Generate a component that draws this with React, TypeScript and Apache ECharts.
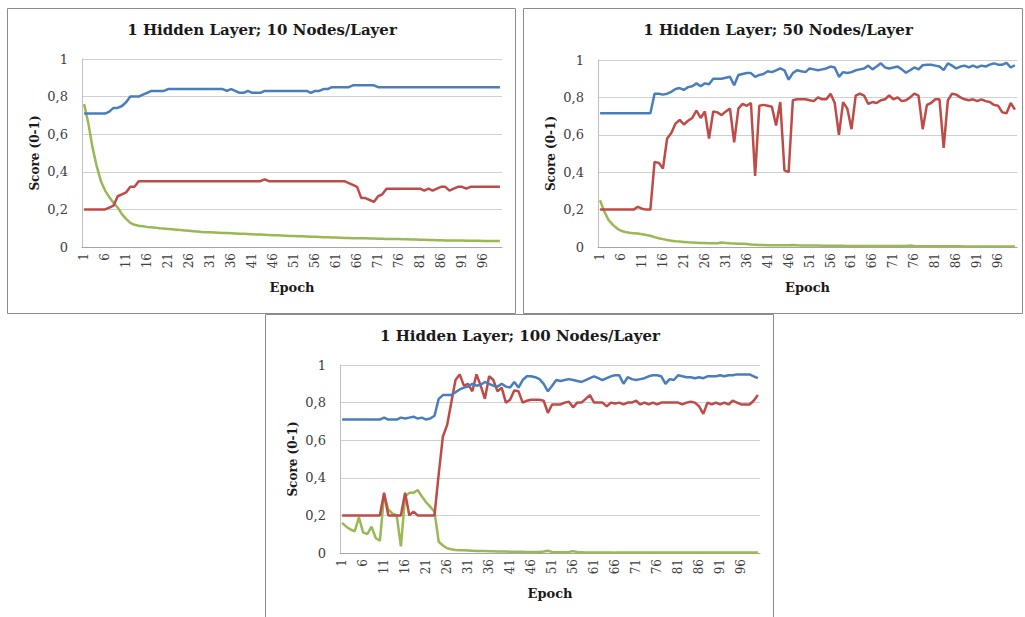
import React, { useEffect, useRef } from "react";
import * as echarts from "echarts";

const epochs: string[] = Array.from({ length: 100 }, (_, i) => String(i + 1));
const yTicks = [0, 0.2, 0.4, 0.6, 0.8, 1];

const titles = [
  "1 Hidden Layer; 10 Nodes/Layer",
  "1 Hidden Layer; 50 Nodes/Layer",
  "1 Hidden Layer; 100 Nodes/Layer",
];

// ---- 10 nodes ----
const blue10 = [
  0.71, 0.71, 0.71, 0.71, 0.71, 0.71, 0.72, 0.74, 0.74, 0.75,
  0.77, 0.80, 0.80, 0.80, 0.81, 0.82, 0.83, 0.83, 0.83, 0.83,
  0.84, 0.84, 0.84, 0.84, 0.84, 0.84, 0.84, 0.84, 0.84, 0.84,
  0.84, 0.84, 0.84, 0.84, 0.83, 0.84, 0.83, 0.82, 0.82, 0.83,
  0.82, 0.82, 0.82, 0.83, 0.83, 0.83, 0.83, 0.83, 0.83, 0.83,
  0.83, 0.83, 0.83, 0.83, 0.82, 0.83, 0.83, 0.84, 0.84, 0.85,
  0.85, 0.85, 0.85, 0.85, 0.86, 0.86, 0.86, 0.86, 0.86, 0.86,
  0.85, 0.85, 0.85, 0.85, 0.85, 0.85, 0.85, 0.85, 0.85, 0.85,
  0.85, 0.85, 0.85, 0.85, 0.85, 0.85, 0.85, 0.85, 0.85, 0.85,
  0.85, 0.85, 0.85, 0.85, 0.85, 0.85, 0.85, 0.85, 0.85, 0.85,
];
const red10 = [
  0.20, 0.20, 0.20, 0.20, 0.20, 0.20, 0.21, 0.22, 0.27, 0.28,
  0.29, 0.32, 0.32, 0.35, 0.35, 0.35, 0.35, 0.35, 0.35, 0.35,
  0.35, 0.35, 0.35, 0.35, 0.35, 0.35, 0.35, 0.35, 0.35, 0.35,
  0.35, 0.35, 0.35, 0.35, 0.35, 0.35, 0.35, 0.35, 0.35, 0.35,
  0.35, 0.35, 0.35, 0.36, 0.35, 0.35, 0.35, 0.35, 0.35, 0.35,
  0.35, 0.35, 0.35, 0.35, 0.35, 0.35, 0.35, 0.35, 0.35, 0.35,
  0.35, 0.35, 0.35, 0.34, 0.33, 0.32, 0.26, 0.26, 0.25, 0.24,
  0.27, 0.28, 0.31, 0.31, 0.31, 0.31, 0.31, 0.31, 0.31, 0.31,
  0.31, 0.30, 0.31, 0.30, 0.31, 0.32, 0.32, 0.30, 0.31, 0.32,
  0.32, 0.31, 0.32, 0.32, 0.32, 0.32, 0.32, 0.32, 0.32, 0.32,
];
const green10 = [
  0.76, 0.66, 0.53, 0.43, 0.35, 0.30, 0.265, 0.235, 0.21, 0.175,
  0.15, 0.128, 0.118, 0.113, 0.11, 0.107, 0.105, 0.103, 0.100, 0.098,
  0.096, 0.094, 0.092, 0.090, 0.088, 0.086, 0.084, 0.082, 0.080, 0.079,
  0.078, 0.077, 0.076, 0.075, 0.074, 0.073, 0.072, 0.071, 0.070, 0.069,
  0.068, 0.067, 0.066, 0.065, 0.064, 0.063, 0.062, 0.061, 0.060, 0.059,
  0.058, 0.057, 0.057, 0.056, 0.055, 0.054, 0.053, 0.052, 0.052, 0.051,
  0.050, 0.049, 0.048, 0.048, 0.047, 0.047, 0.046, 0.046, 0.045, 0.045,
  0.044, 0.044, 0.043, 0.043, 0.042, 0.042, 0.041, 0.041, 0.040, 0.040,
  0.039, 0.038, 0.037, 0.037, 0.036, 0.036, 0.035, 0.035, 0.035, 0.034,
  0.034, 0.033, 0.033, 0.033, 0.033, 0.032, 0.032, 0.032, 0.032, 0.032,
];

// ---- 50 nodes ----
const blue50 = [
  0.715, 0.715, 0.715, 0.715, 0.715, 0.715, 0.715, 0.715, 0.715, 0.715,
  0.715, 0.715, 0.715, 0.82, 0.82, 0.815, 0.82, 0.83, 0.845, 0.85,
  0.84, 0.855, 0.86, 0.875, 0.86, 0.875, 0.87, 0.90, 0.90, 0.90,
  0.905, 0.91, 0.865, 0.92, 0.925, 0.93, 0.93, 0.91, 0.92, 0.925,
  0.94, 0.935, 0.945, 0.955, 0.945, 0.895, 0.93, 0.945, 0.94, 0.935,
  0.955, 0.95, 0.945, 0.95, 0.955, 0.965, 0.96, 0.91, 0.935, 0.93,
  0.935, 0.945, 0.95, 0.955, 0.97, 0.95, 0.965, 0.982, 0.96, 0.955,
  0.96, 0.965, 0.95, 0.932, 0.945, 0.96, 0.95, 0.972, 0.975, 0.975,
  0.97, 0.965, 0.946, 0.982, 0.97, 0.955, 0.965, 0.97, 0.96, 0.97,
  0.96, 0.97, 0.965, 0.975, 0.982, 0.975, 0.975, 0.985, 0.96, 0.972,
];
const red50 = [
  0.20, 0.20, 0.20, 0.20, 0.20, 0.20, 0.20, 0.20, 0.20, 0.215,
  0.205, 0.20, 0.20, 0.455, 0.45, 0.42, 0.58, 0.61, 0.66, 0.68,
  0.655, 0.675, 0.69, 0.73, 0.69, 0.725, 0.58, 0.725, 0.72, 0.705,
  0.725, 0.74, 0.56, 0.74, 0.765, 0.755, 0.77, 0.38, 0.755, 0.76,
  0.755, 0.75, 0.65, 0.775, 0.41, 0.40, 0.785, 0.79, 0.79, 0.79,
  0.785, 0.78, 0.80, 0.79, 0.79, 0.82, 0.77, 0.60, 0.775, 0.74,
  0.63, 0.81, 0.82, 0.81, 0.765, 0.775, 0.77, 0.785, 0.79, 0.81,
  0.79, 0.80, 0.78, 0.785, 0.80, 0.82, 0.81, 0.63, 0.76, 0.77,
  0.79, 0.79, 0.53, 0.785, 0.82, 0.815, 0.80, 0.79, 0.785, 0.79,
  0.78, 0.79, 0.78, 0.775, 0.76, 0.755, 0.72, 0.715, 0.77, 0.735,
];
const green50 = [
  0.25, 0.19, 0.145, 0.12, 0.10, 0.087, 0.08, 0.076, 0.074, 0.072,
  0.068, 0.064, 0.06, 0.053, 0.047, 0.042, 0.037, 0.034, 0.031, 0.029,
  0.027, 0.025, 0.024, 0.023, 0.022, 0.021, 0.02, 0.02, 0.02, 0.024,
  0.022, 0.02, 0.019, 0.018, 0.017, 0.016, 0.013, 0.012, 0.011, 0.011,
  0.01, 0.01, 0.009, 0.009, 0.009, 0.009, 0.011, 0.009, 0.008, 0.008,
  0.008, 0.008, 0.008, 0.007, 0.007, 0.007, 0.007, 0.007, 0.007, 0.006,
  0.006, 0.006, 0.006, 0.006, 0.005, 0.005, 0.005, 0.005, 0.005, 0.005,
  0.005, 0.005, 0.005, 0.006, 0.008, 0.005, 0.004, 0.004, 0.004, 0.004,
  0.004, 0.004, 0.004, 0.004, 0.004, 0.004, 0.004, 0.003, 0.003, 0.003,
  0.003, 0.003, 0.003, 0.003, 0.003, 0.003, 0.003, 0.003, 0.003, 0.003,
];

// ---- 100 nodes ----
const blue100 = [
  0.71, 0.71, 0.71, 0.71, 0.71, 0.71, 0.71, 0.71, 0.71, 0.71,
  0.72, 0.71, 0.71, 0.71, 0.72, 0.715, 0.72, 0.725, 0.715, 0.72,
  0.71, 0.715, 0.73, 0.82, 0.84, 0.84, 0.84, 0.855, 0.87, 0.88,
  0.885, 0.90, 0.89, 0.895, 0.91, 0.90, 0.89, 0.885, 0.90, 0.885,
  0.88, 0.91, 0.88, 0.92, 0.94, 0.94, 0.935, 0.925, 0.90, 0.86,
  0.89, 0.92, 0.915, 0.92, 0.925, 0.92, 0.915, 0.91, 0.92, 0.93,
  0.94, 0.93, 0.92, 0.93, 0.94, 0.945, 0.945, 0.90, 0.935, 0.925,
  0.92, 0.925, 0.93, 0.94, 0.945, 0.945, 0.94, 0.90, 0.925, 0.92,
  0.945, 0.94, 0.935, 0.935, 0.93, 0.935, 0.93, 0.94, 0.94, 0.94,
  0.945, 0.94, 0.945, 0.945, 0.95, 0.95, 0.95, 0.95, 0.94, 0.93,
];
const red100 = [
  0.20, 0.20, 0.20, 0.20, 0.20, 0.20, 0.20, 0.20, 0.20, 0.20,
  0.32, 0.20, 0.20, 0.20, 0.20, 0.32, 0.20, 0.22, 0.20, 0.20,
  0.20, 0.20, 0.20, 0.42, 0.62, 0.68, 0.80, 0.92, 0.95, 0.89,
  0.90, 0.86, 0.95, 0.89, 0.82, 0.94, 0.92, 0.86, 0.88, 0.80,
  0.815, 0.865, 0.86, 0.80, 0.81, 0.815, 0.815, 0.815, 0.81, 0.745,
  0.79, 0.79, 0.79, 0.80, 0.805, 0.775, 0.80, 0.80, 0.82, 0.84,
  0.80, 0.80, 0.80, 0.78, 0.80, 0.795, 0.80, 0.79, 0.80, 0.80,
  0.81, 0.79, 0.80, 0.79, 0.80, 0.79, 0.80, 0.80, 0.80, 0.80,
  0.80, 0.79, 0.80, 0.805, 0.80, 0.78, 0.74, 0.80, 0.79, 0.80,
  0.79, 0.80, 0.79, 0.81, 0.80, 0.79, 0.79, 0.79, 0.81, 0.84,
];
const green100 = [
  0.16, 0.14, 0.125, 0.115, 0.19, 0.11, 0.10, 0.14, 0.08, 0.065,
  0.31, 0.23, 0.21, 0.20, 0.035, 0.30, 0.32, 0.32, 0.335, 0.30,
  0.27, 0.245, 0.22, 0.06, 0.04, 0.025, 0.02, 0.016, 0.014, 0.014,
  0.013, 0.012, 0.011, 0.01, 0.01, 0.009, 0.009, 0.008, 0.008, 0.008,
  0.007, 0.007, 0.006, 0.006, 0.005, 0.005, 0.005, 0.005, 0.008, 0.012,
  0.006, 0.004, 0.004, 0.004, 0.006, 0.01, 0.005, 0.004, 0.003, 0.003,
  0.003, 0.003, 0.003, 0.003, 0.003, 0.002, 0.002, 0.002, 0.002, 0.002,
  0.002, 0.002, 0.002, 0.002, 0.002, 0.002, 0.002, 0.002, 0.002, 0.002,
  0.002, 0.002, 0.002, 0.002, 0.002, 0.002, 0.002, 0.002, 0.002, 0.002,
  0.002, 0.002, 0.002, 0.002, 0.002, 0.002, 0.002, 0.002, 0.002, 0.002,
];

const panelSeries = [
  [blue10, red10, green10],
  [blue50, red50, green50],
  [blue100, red100, green100],
];
const seriesColors = ["#4a7ebb", "#be4b48", "#98b954"];

const grids = [
  { left: 82, top: 59, width: 420, height: 188 },
  { left: 598, top: 60, width: 419, height: 187 },
  { left: 340, top: 365, width: 420, height: 188 },
];
const titlePos = [
  { x: 262, y: 22 },
  { x: 778, y: 22 },
  { x: 520, y: 328 },
];
const boxes = [
  { x: 7.5, y: 8.5, w: 508, h: 305 },
  { x: 523.5, y: 8.5, w: 499, h: 305 },
  { x: 265.5, y: 314.5, w: 508, h: 310 },
];

const FONT = "'DejaVu Serif', serif";

export default function App() {
  const ref = useRef<HTMLDivElement>(null);
  useEffect(() => {
    if (!ref.current) return;
    const chart = echarts.init(ref.current, undefined, { renderer: "svg" });
    const option: any = {
      animation: false,
      backgroundColor: "#ffffff",
      title: titles.map((t, i) => ({
        text: t,
        left: titlePos[i].x,
        top: titlePos[i].y,
        textAlign: "center",
        padding: 0,
        textStyle: { fontFamily: FONT, fontWeight: "bold", fontSize: 15, color: "#1a1a1a" },
      })),
      graphic: boxes.map((b) => ({
        type: "rect",
        silent: true,
        shape: { x: b.x, y: b.y, width: b.w, height: b.h },
        style: { fill: "none", stroke: "#8c8c8c", lineWidth: 1 },
        z: -1,
      })),
      grid: grids.map((g) => ({ ...g, containLabel: false })),
      xAxis: grids.map((_, i) => ({
        type: "category",
        gridIndex: i,
        data: epochs,
        boundaryGap: true,
        axisTick: { show: false },
        axisLine: { lineStyle: { color: "#a6a6a6" } },
        axisLabel: {
          interval: 4,
          rotate: 90,
          fontFamily: FONT,
          fontSize: 12,
          color: "#404040",
          margin: 6,
        },
        splitLine: { show: false },
        name: "Epoch",
        nameLocation: "middle",
        nameGap: 34,
        nameTextStyle: { fontFamily: FONT, fontWeight: "bold", fontSize: 13, color: "#1a1a1a" },
      })),
      yAxis: grids.map((_, i) => ({
        type: "value",
        gridIndex: i,
        min: yTicks[0],
        max: yTicks[yTicks.length - 1],
        interval: 0.2,
        axisTick: { show: false },
        axisLine: { show: true, lineStyle: { color: "#bfbfbf" } },
        axisLabel: {
          fontFamily: FONT,
          fontSize: 13,
          color: "#404040",
          margin: 14,
          formatter: (v: number) => String(Math.round(v * 10) / 10).replace(".", ","),
        },
        splitLine: { show: true, lineStyle: { color: "#d0d0d0", width: 1 } },
        name: "Score (0-1)",
        nameLocation: "middle",
        nameRotate: 90,
        nameGap: 41,
        nameTextStyle: { fontFamily: FONT, fontWeight: "bold", fontSize: 12, color: "#1a1a1a" },
      })),
      series: panelSeries.flatMap((set, gi) =>
        set.map((data, si) => ({
          type: "line",
          xAxisIndex: gi,
          yAxisIndex: gi,
          data,
          symbol: "none",
          lineStyle: { color: seriesColors[si], width: 2.5 },
          itemStyle: { color: seriesColors[si] },
          z: 3 - si,
        }))
      ),
    };
    chart.setOption(option);
    return () => chart.dispose();
  }, []);
  return (
    <div
      ref={ref}
      style={{ position: "absolute", left: 0, top: 0, width: 1025, height: 617 }}
    />
  );
}
